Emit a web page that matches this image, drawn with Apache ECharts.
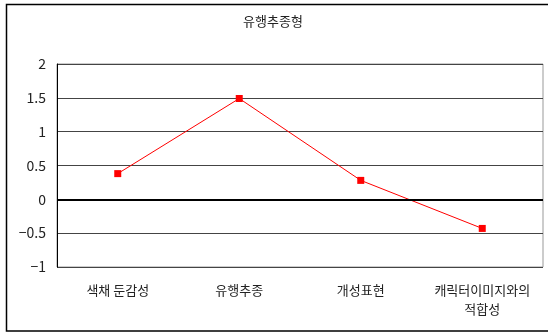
<!DOCTYPE html>
<html>
<head>
<meta charset="utf-8">
<script src="https://cdn.jsdelivr.net/npm/echarts@6/dist/echarts.min.js"></script>
<style>html,body{margin:0;padding:0;background:#fff}#c{width:548px;height:334px}</style>
</head>
<body>
<div id="c"></div>
<script>
var title = '유행추종형';
var categories = ['색채 둔감성', '유행추종', '개성표현', '캐릭터이미지와의\n적합성'];
var values = [0.38, 1.49, 0.28, -0.43];
var yMin = -1, yMax = 2, yStep = 0.5;

var font = '"Noto Sans CJK KR", sans-serif';
var chart = echarts.init(document.getElementById('c'));
chart.setOption({
  animation: false,
  backgroundColor: '#fff',
  title: {
    text: title, left: 268, top: 10, textAlign: 'center',
    textStyle: { fontFamily: font, fontSize: 13, fontWeight: 'normal', color: '#222' }
  },
  graphic: [{
    type: 'rect', shape: { x: 6.5, y: 4.5, width: 600, height: 326.5 },
    style: { fill: null, stroke: '#000', lineWidth: 1.5 }, silent: true
  }],
  grid: { left: 57, right: 5, top: 64, bottom: 67, show: true, borderColor: '#999', borderWidth: 1, backgroundColor: 'transparent' },
  xAxis: {
    type: 'category', data: categories, boundaryGap: true,
    axisLine: { show: false }, axisTick: { show: false },
    axisLabel: { fontFamily: font, fontSize: 13, color: '#222', margin: 14, lineHeight: 19, interval: 0 },
    splitLine: { show: false }
  },
  yAxis: {
    type: 'value', min: yMin, max: yMax, interval: yStep,
    axisLine: { show: true, lineStyle: { color: '#000', width: 1 } },
    axisTick: { show: false },
    axisLabel: { fontFamily: font, fontSize: 14, color: '#222', margin: 11,
      formatter: function (v) { return v < 0 ? '\u2212' + Math.abs(v) : String(v); } },
    splitLine: { show: true, lineStyle: { color: '#444', width: 1 } }
  },
  series: [{
    type: 'line', data: values,
    symbol: 'rect', symbolSize: 7,
    lineStyle: { color: '#ff0000', width: 1 },
    itemStyle: { color: '#ff0000' },
    markLine: {
      silent: true, symbol: 'none', label: { show: false },
      lineStyle: { color: '#000', width: 2, type: 'solid' },
      data: [{ yAxis: 0 }]
    },
    z: 3
  }]
});
</script>
</body>
</html>
